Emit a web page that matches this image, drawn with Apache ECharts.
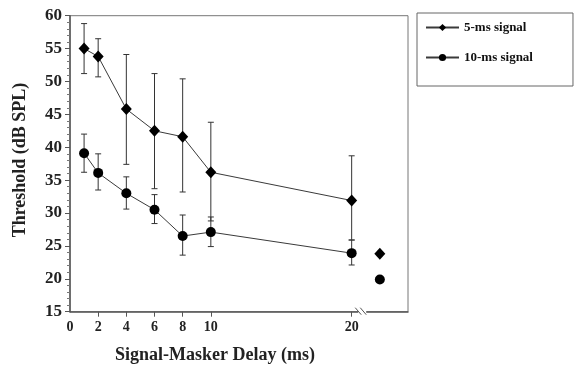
<!DOCTYPE html>
<html>
<head>
<meta charset="utf-8">
<script src="https://cdn.jsdelivr.net/npm/echarts@6/dist/echarts.min.js"></script>
<style>
  html, body { margin: 0; padding: 0; background: #fff; }
  #chart { width: 578px; height: 368px; }
</style>
</head>
<body>
<div id="chart"></div>
<script>
// delays (ms)
const delays = [1, 2, 4, 6, 8, 10, 20];
// 5-ms signal: mean threshold and error range
const sig5 = [55.0, 53.8, 45.8, 42.5, 41.6, 36.2, 31.9];
const sig5Low = [51.2, 50.7, 37.4, 33.7, 33.2, 28.8, 25.9];
const sig5High = [58.8, 56.5, 54.1, 51.2, 50.4, 43.8, 38.7];
// 10-ms signal
const sig10 = [39.1, 36.1, 33.0, 30.5, 26.5, 27.1, 23.9];
const sig10Low = [36.2, 33.5, 30.6, 28.4, 23.6, 24.9, 22.1];
const sig10High = [42.0, 39.0, 35.5, 32.8, 29.7, 29.4, 25.9];
// unconnected points after the axis break
const extraX = 22;
const extra5 = 23.8;
const extra10 = 19.9;
const breakAt = 20.75;

const xTicks = [2, 4, 6, 8, 10, 20];
const xLabels = [0, 2, 4, 6, 8, 10, 20];

const serif = 'Liberation Serif';
const lineColor = '#3a3a3a';

function pairs(xs, ys) {
  return xs.map((x, i) => [x, ys[i]]);
}
function errData(xs, lo, hi) {
  return xs.map((x, i) => [x, lo[i], hi[i]]);
}

function renderErr(params, api) {
  const top = api.coord([api.value(0), api.value(2)]);
  const bot = api.coord([api.value(0), api.value(1)]);
  const cap = 3;
  const st = { stroke: '#333', lineWidth: 1 };
  return {
    type: 'group',
    children: [
      { type: 'line', shape: { x1: top[0], y1: top[1], x2: bot[0], y2: bot[1] }, style: st },
      { type: 'line', shape: { x1: top[0] - cap, y1: top[1], x2: top[0] + cap, y2: top[1] }, style: st },
      { type: 'line', shape: { x1: bot[0] - cap, y1: bot[1], x2: bot[0] + cap, y2: bot[1] }, style: st }
    ]
  };
}

// little "//" break marks on the x axis
function renderBreak(params, api) {
  const p = api.coord([api.value(0), api.value(1)]);
  const st = { stroke: '#555', lineWidth: 1 };
  return {
    type: 'group',
    children: [
      { type: 'rect', shape: { x: p[0] - 4, y: p[1] - 2, width: 8, height: 4 }, style: { fill: '#fff' } },
      { type: 'line', shape: { x1: p[0] - 7, y1: p[1] - 4, x2: p[0] - 1, y2: p[1] + 3 }, style: st },
      { type: 'line', shape: { x1: p[0] - 2, y1: p[1] - 4, x2: p[0] + 4, y2: p[1] + 3 }, style: st }
    ]
  };
}

const chart = echarts.init(document.getElementById('chart'), null, { renderer: 'canvas' });

const option = {
  animation: false,
  backgroundColor: '#fff',
  grid: {
    left: 70, top: 15.7, right: 170, bottom: 56.3,
    show: true, borderColor: '#777', borderWidth: 1, backgroundColor: 'transparent'
  },
  legend: {
    orient: 'vertical',
    left: 417, top: 13,
    padding: [8, 40, 22, 8],
    itemGap: 17,
    itemWidth: 33,
    itemHeight: 9,
    borderColor: '#666',
    borderWidth: 1,
    data: ['5-ms signal', '10-ms signal'],
    textStyle: { fontFamily: serif, fontWeight: 'bold', fontSize: 13, color: '#111' }
  },
  xAxis: {
    type: 'value',
    min: 0, max: 24, interval: 2,
    axisLine: { show: true, lineStyle: { color: '#555', width: 1.5 } },
    axisTick: { show: true, length: 5, customValues: xTicks, lineStyle: { color: '#555' } },
    axisLabel: {
      customValues: xLabels, margin: 9,
      fontFamily: serif, fontWeight: 'bold', fontSize: 14, color: '#222'
    },
    splitLine: { show: false }
  },
  yAxis: {
    type: 'value',
    min: 15, max: 60, interval: 5,
    axisLine: { show: true, lineStyle: { color: '#555', width: 1.5 } },
    axisTick: { show: true, length: 5, lineStyle: { color: '#555' } },
    minorTick: { show: true, splitNumber: 5, length: 3, lineStyle: { color: '#777' } },
    axisLabel: { margin: 8, fontFamily: serif, fontWeight: 'bold', fontSize: 17, color: '#222' },
    splitLine: { show: false }
  },
  graphic: [
    {
      type: 'text', x: 20, y: 160, rotation: Math.PI / 2,
      style: {
        text: 'Threshold (dB SPL)', fontFamily: serif, fontWeight: 'bold', fontSize: 18,
        fill: '#222', align: 'center', verticalAlign: 'middle'
      }
    },
    {
      type: 'text', x: 215, y: 355,
      style: {
        text: 'Signal-Masker Delay (ms)', fontFamily: serif, fontWeight: 'bold', fontSize: 18,
        fill: '#222', align: 'center', verticalAlign: 'middle'
      }
    }
  ],
  series: [
    {
      name: 'err5', type: 'custom', renderItem: renderErr,
      data: errData(delays, sig5Low, sig5High), encode: { x: 0, y: [1, 2] }, z: 1
    },
    {
      name: 'err10', type: 'custom', renderItem: renderErr,
      data: errData(delays, sig10Low, sig10High), encode: { x: 0, y: [1, 2] }, z: 1
    },
    {
      name: '5-ms signal', type: 'line', data: pairs(delays, sig5),
      symbol: 'diamond', symbolSize: [11, 12],
      lineStyle: { color: lineColor, width: 1 },
      itemStyle: { color: '#000' }, z: 3
    },
    {
      name: '10-ms signal', type: 'line', data: pairs(delays, sig10),
      symbol: 'circle', symbolSize: 10,
      lineStyle: { color: lineColor, width: 1 },
      itemStyle: { color: '#000' }, z: 3
    },
    {
      name: 'extra5', type: 'scatter', data: [[extraX, extra5]],
      symbol: 'diamond', symbolSize: [11, 12], itemStyle: { color: '#000', opacity: 1 }
    },
    {
      name: 'extra10', type: 'scatter', data: [[extraX, extra10]],
      symbol: 'circle', symbolSize: 10, itemStyle: { color: '#000', opacity: 1 }
    },
    {
      name: 'break', type: 'custom', renderItem: renderBreak,
      data: [[breakAt, 15]], z: 5, silent: true, clip: false
    }
  ]
};

chart.setOption(option);
</script>
</body>
</html>
